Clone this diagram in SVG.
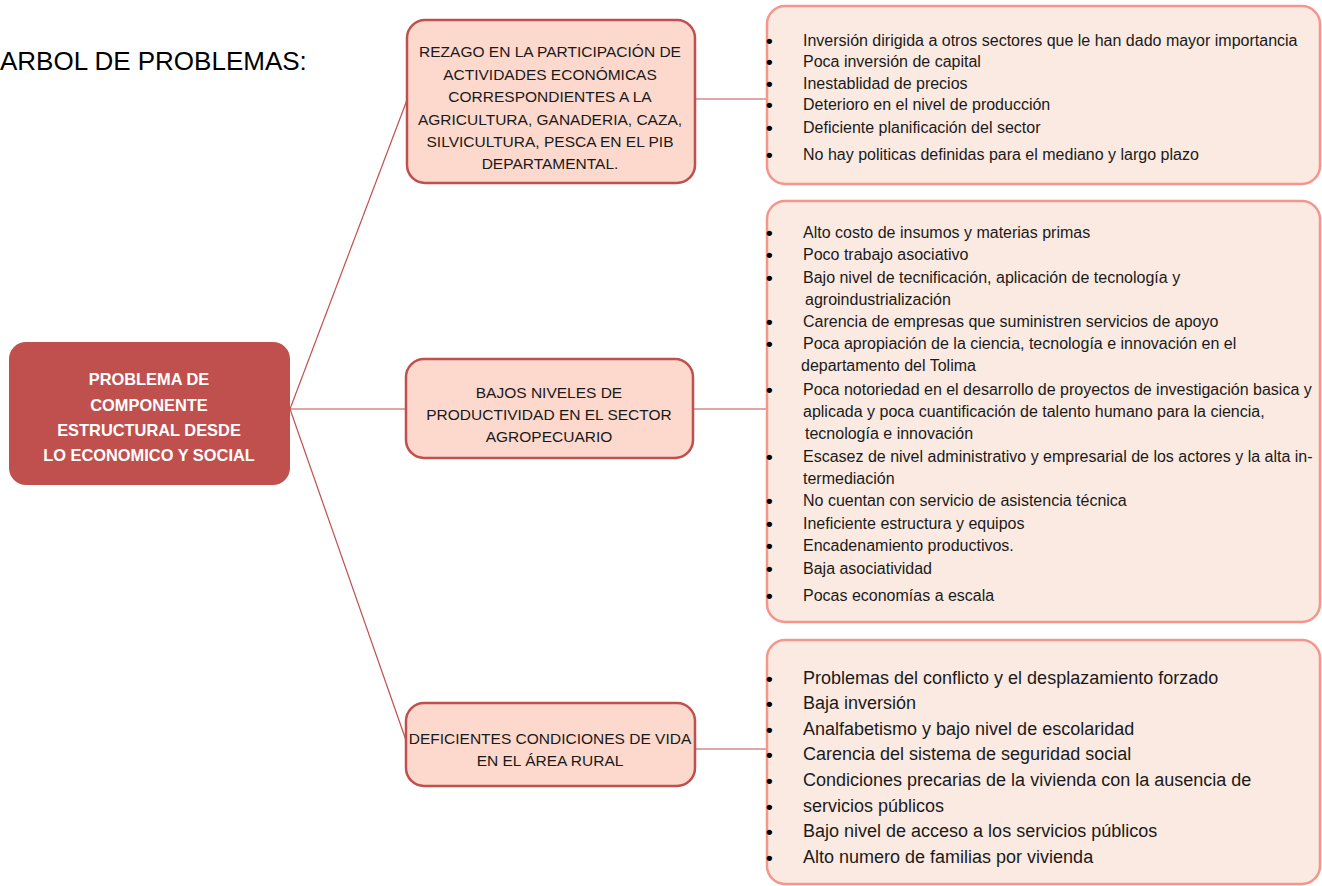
<svg xmlns="http://www.w3.org/2000/svg" width="1322" height="886" viewBox="0 0 1322 886">
<style>
.root{fill:#C0504D;}
.mid{fill:#FDD8CD;stroke:#C0504D;stroke-width:2.5;}
.list{fill:#FBEAE2;stroke:#F4968C;stroke-width:2.5;}
.conn{stroke:#C0504D;stroke-width:1.2;fill:none;}
.rt{font-family:"Liberation Sans",Arial,sans-serif;font-size:16.4px;font-weight:bold;fill:#FFFFFF;text-anchor:middle;}
.mt{font-family:"Liberation Sans",Arial,sans-serif;font-size:15.5px;fill:#1A1A1A;text-anchor:middle;}
.lt{font-family:"Liberation Sans",Arial,sans-serif;font-size:16px;fill:#1A1A1A;}
.lt3{font-family:"Liberation Sans",Arial,sans-serif;font-size:18px;fill:#1A1A1A;}
.b{font-family:"Liberation Sans",Arial,sans-serif;font-size:19px;font-weight:bold;fill:#000;}
.title{font-family:"Liberation Sans",Arial,sans-serif;font-size:26px;fill:#000;}
</style>
<text class="title" x="0" y="70">ARBOL DE PROBLEMAS:</text>
<g id="connectors">
<line class="conn" x1="290" y1="409" x2="407" y2="100"/>
<line class="conn" x1="290" y1="409" x2="407" y2="409"/>
<line class="conn" x1="290" y1="409" x2="408" y2="746"/>
<line class="conn" x1="695" y1="99" x2="767" y2="99"/>
<line class="conn" x1="693" y1="409" x2="767" y2="409"/>
<line class="conn" x1="695" y1="749" x2="767" y2="749"/>
</g>
<g id="root">
<rect class="root" x="9" y="342" width="281" height="143" rx="17"/>
<text class="rt" x="149" y="385">PROBLEMA DE</text>
<text class="rt" x="149" y="411">COMPONENTE</text>
<text class="rt" x="149" y="436">ESTRUCTURAL DESDE</text>
<text class="rt" x="149" y="461">LO ECONOMICO Y SOCIAL</text>
</g>
<g id="node1">
<rect class="mid" x="407" y="20" width="288" height="163" rx="18"/>
<text class="mt" x="550" y="57">REZAGO EN LA PARTICIPACIÓN DE</text>
<text class="mt" x="550" y="80">ACTIVIDADES ECONÓMICAS</text>
<text class="mt" x="550" y="102">CORRESPONDIENTES A LA</text>
<text class="mt" x="550" y="125">AGRICULTURA, GANADERIA, CAZA,</text>
<text class="mt" x="550" y="147">SILVICULTURA, PESCA EN EL PIB</text>
<text class="mt" x="550" y="169">DEPARTAMENTAL.</text>
</g>
<g id="node2">
<rect class="mid" x="406" y="359" width="287" height="99" rx="18"/>
<text class="mt" x="549" y="398">BAJOS NIVELES DE</text>
<text class="mt" x="549" y="420">PRODUCTIVIDAD EN EL SECTOR</text>
<text class="mt" x="549" y="442">AGROPECUARIO</text>
</g>
<g id="node3">
<rect class="mid" x="406" y="703" width="289" height="83" rx="18"/>
<text class="mt" x="550" y="744">DEFICIENTES CONDICIONES DE VIDA</text>
<text class="mt" x="550" y="766">EN EL ÁREA RURAL</text>
</g>
<g id="list1">
<rect class="list" x="767" y="6" width="553" height="178" rx="18"/>
<text class="b" x="766" y="47">•</text><text class="lt" x="803" y="46">Inversión dirigida a otros sectores que le han dado mayor importancia</text>
<text class="b" x="766" y="68">•</text><text class="lt" x="803" y="67">Poca inversión de capital</text>
<text class="b" x="766" y="90">•</text><text class="lt" x="803" y="89">Inestablidad de precios</text>
<text class="b" x="766" y="111">•</text><text class="lt" x="803" y="110">Deterioro en el nivel de producción</text>
<text class="b" x="766" y="134">•</text><text class="lt" x="803" y="133">Deficiente planificación del sector</text>
<text class="b" x="766" y="161">•</text><text class="lt" x="803" y="160">No hay politicas definidas para el mediano y largo plazo</text>
</g>
<g id="list2">
<rect class="list" x="767" y="201" width="553" height="421" rx="18"/>
<text class="b" x="766" y="239">•</text><text class="lt" x="803" y="238">Alto costo de insumos y materias primas</text>
<text class="b" x="766" y="261">•</text><text class="lt" x="803" y="260">Poco trabajo asociativo</text>
<text class="b" x="766" y="284">•</text><text class="lt" x="803" y="283">Bajo nivel de tecnificación, aplicación de tecnología y</text>
<text class="lt" x="805" y="305">agroindustrialización</text>
<text class="b" x="766" y="328">•</text><text class="lt" x="803" y="327">Carencia de empresas que suministren servicios de apoyo</text>
<text class="b" x="766" y="350">•</text><text class="lt" x="803" y="349">Poca apropiación de la ciencia, tecnología e innovación en el</text>
<text class="lt" x="801" y="371">departamento del Tolima</text>
<text class="b" x="766" y="396">•</text><text class="lt" x="803" y="395">Poca notoriedad en el desarrollo de proyectos de investigación basica y</text>
<text class="lt" x="803" y="417">aplicada y poca cuantificación de talento humano para la ciencia,</text>
<text class="lt" x="805" y="439">tecnología e innovación</text>
<text class="b" x="766" y="463">•</text><text class="lt" x="803" y="462">Escasez de nivel administrativo y empresarial de los actores y la alta in-</text>
<text class="lt" x="803" y="484">termediación</text>
<text class="b" x="766" y="507">•</text><text class="lt" x="803" y="506">No cuentan con servicio de asistencia técnica</text>
<text class="b" x="766" y="530">•</text><text class="lt" x="803" y="529">Ineficiente estructura y equipos</text>
<text class="b" x="766" y="552">•</text><text class="lt" x="803" y="551">Encadenamiento productivos.</text>
<text class="b" x="766" y="575">•</text><text class="lt" x="803" y="574">Baja asociatividad</text>
<text class="b" x="766" y="602">•</text><text class="lt" x="803" y="601">Pocas economías a escala</text>
</g>
<g id="list3">
<rect class="list" x="767" y="640" width="553" height="244" rx="18"/>
<text class="b" x="766" y="685">•</text><text class="lt3" x="803" y="684">Problemas del conflicto y el desplazamiento forzado</text>
<text class="b" x="766" y="710">•</text><text class="lt3" x="803" y="709">Baja inversión</text>
<text class="b" x="766" y="736">•</text><text class="lt3" x="803" y="735">Analfabetismo y bajo nivel de escolaridad</text>
<text class="b" x="766" y="761">•</text><text class="lt3" x="803" y="760">Carencia del sistema de seguridad social</text>
<text class="b" x="766" y="787">•</text><text class="lt3" x="803" y="786">Condiciones precarias de la vivienda con la ausencia de</text>
<text class="b" x="766" y="813">•</text><text class="lt3" x="803" y="812">servicios públicos</text>
<text class="b" x="766" y="838">•</text><text class="lt3" x="803" y="837">Bajo nivel de acceso a los servicios públicos</text>
<text class="b" x="766" y="864">•</text><text class="lt3" x="803" y="863">Alto numero de familias por vivienda</text>
</g>
</svg>
